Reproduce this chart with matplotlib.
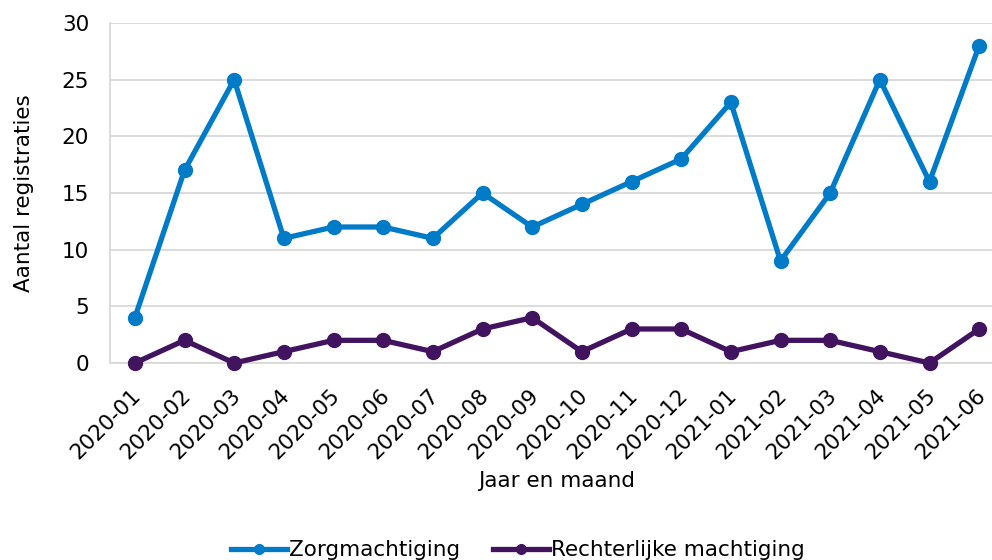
import matplotlib
matplotlib.use("Agg")
import matplotlib.pyplot as plt
from matplotlib.transforms import ScaledTranslation

# Maanden (x-as)
months = ["2020-01", "2020-02", "2020-03", "2020-04", "2020-05", "2020-06",
          "2020-07", "2020-08", "2020-09", "2020-10", "2020-11", "2020-12",
          "2021-01", "2021-02", "2021-03", "2021-04", "2021-05", "2021-06"]

# Aantal registraties per type machtiging
zorgmachtiging = [4, 17, 25, 11, 12, 12, 11, 15, 12, 14, 16, 18, 23, 9, 15, 25, 16, 28]
rechterlijke = [0, 2, 0, 1, 2, 2, 1, 3, 4, 1, 3, 3, 1, 2, 2, 1, 0, 3]

BLUE = "#007BC7"
PURPLE = "#42145F"
GRID = "#D9D9D9"
FS = 15.5

plt.rcParams["font.family"] = "DejaVu Sans"

fig = plt.figure(figsize=(9.92, 5.6), dpi=100)
ax = fig.add_axes([110 / 992, 1 - 363 / 560, 894 / 992, 340 / 560])

x = list(range(len(months)))
ax.plot(x, zorgmachtiging, color=BLUE, lw=3.8, marker="o", markersize=10,
        label="Zorgmachtiging", clip_on=False, zorder=3)
ax.plot(x, rechterlijke, color=PURPLE, lw=3.8, marker="o", markersize=10,
        label="Rechterlijke machtiging", clip_on=False, zorder=3)

ax.set_xlim(-0.5, len(months) - 0.5)
ax.set_ylim(0, 30)
ax.set_yticks(range(0, 31, 5))
ax.set_xticks(x)
ax.set_xticklabels(months, rotation=45, ha="right", rotation_mode="anchor")
ax.tick_params(axis="both", labelsize=FS, length=0, colors="black")
ax.tick_params(axis="x", pad=16)
ax.tick_params(axis="y", pad=15)

# schuif de maandlabels iets naar links
shift = ScaledTranslation(-4 / 100, 0, fig.dpi_scale_trans)
for lbl in ax.get_xticklabels():
    lbl.set_transform(lbl.get_transform() + shift)

ax.grid(axis="y", color=GRID, lw=1.3)
ax.set_axisbelow(True)
for side in ["top", "right"]:
    ax.spines[side].set_visible(False)
for side in ["left", "bottom"]:
    ax.spines[side].set_color(GRID)
    ax.spines[side].set_linewidth(1.3)

ax.set_xlabel("Jaar en maand", fontsize=FS, labelpad=6)
ax.set_ylabel("Aantal registraties", fontsize=FS, labelpad=20)

fig.legend(loc="lower center", bbox_to_anchor=(0.522, -0.035), ncol=2,
           frameon=False, fontsize=FS, handlelength=2.6, handletextpad=0.1,
           columnspacing=1.5, markerscale=0.7)

fig.savefig("out.png", dpi=100)
